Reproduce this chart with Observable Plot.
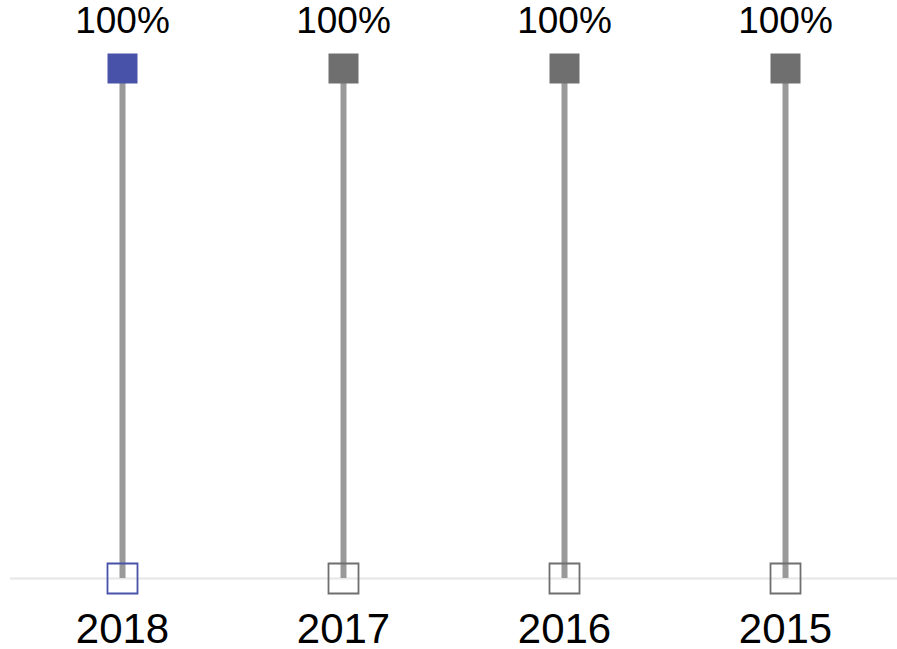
<!DOCTYPE html>
<html>
<head>
<meta charset="utf-8">
<script src="https://cdn.jsdelivr.net/npm/d3@7"></script>
<script src="https://cdn.jsdelivr.net/npm/@observablehq/plot@0.6"></script>
<style>
  html, body { margin: 0; padding: 0; background: #fff; }
  svg { display: block; font-family: "Liberation Sans", Arial, sans-serif; }
</style>
</head>
<body>
<div id="chart"></div>
<script>
const years = ["2018", "2017", "2016", "2015"];
const startValues = [0, 0, 0, 0];
const endValues = [100, 100, 100, 100];
const labels = ["100%", "100%", "100%", "100%"];
const highlightYear = "2018";

const data = years.map((y, i) => ({
  year: y,
  start: startValues[i],
  end: endValues[i],
  label: labels[i],
  color: y === highlightYear ? "#4752a8" : "#6f6f6f"
}));

const side = 30;
const r = side / Math.sqrt(Math.PI);

const chart = Plot.plot({
  width: 897,
  height: 649,
  marginLeft: 10,
  marginRight: 0,
  marginTop: 0,
  marginBottom: 71,
  x: { type: "point", domain: years, range: [10, 897], padding: 0.5, label: null },
  y: { domain: [0, 100], range: [578, 68], axis: null },
  marks: [
    Plot.ruleY([0], { stroke: "#e6e6e6", strokeWidth: 2 }),
    Plot.ruleX(data, { x: "year", y1: "start", y2: "end", stroke: "#999999", strokeWidth: 6 }),
    Plot.dot(data, { x: "year", y: "start", symbol: "square", r: r, fill: "none", stroke: "color", strokeWidth: 1.8 }),
    Plot.dot(data, { x: "year", y: "end", symbol: "square", r: r, fill: "color", stroke: "none" }),
    Plot.text(data, { x: "year", y: "end", text: "label", dy: -47, fontSize: 37, fill: "#000" }),
    Plot.axisX({ tickSize: 0, tickPadding: 35, fontSize: 42, label: null, color: "#000" })
  ]
});
document.getElementById("chart").appendChild(chart);
</script>
</body>
</html>
